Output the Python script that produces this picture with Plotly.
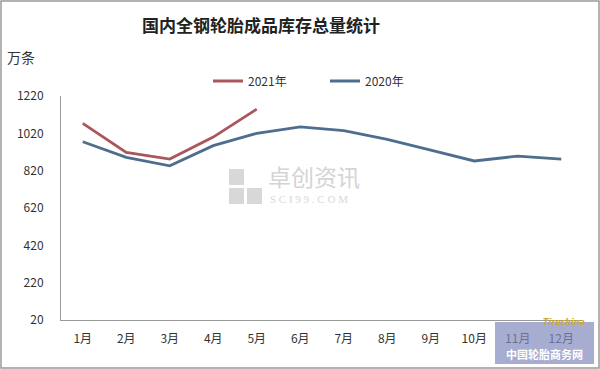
import plotly.graph_objects as go

months = ["1月", "2月", "3月", "4月", "5月", "6月", "7月", "8月", "9月", "10月", "11月", "12月"]
vals_2021 = [1073, 918, 882, 1000, 1150]
vals_2020 = [975, 891, 846, 954, 1020, 1055, 1034, 988, 930, 872, 898, 882]
y_ticks = [20, 220, 420, 620, 820, 1020, 1220]

W, H = 600, 369
L, R, T, B = 61, 17, 96, 49
pw, ph = W - L - R, H - T - B

def px(p):
    return (p - L) / pw

def py(p):
    return (H - B - p) / ph

FONT = "Noto Sans CJK SC"

fig = go.Figure()
fig.add_trace(go.Scatter(x=months[:len(vals_2021)], y=vals_2021, mode="lines", name="2021年",
                         line=dict(color="#a9575a", width=2.8)))
fig.add_trace(go.Scatter(x=months, y=vals_2020, mode="lines", name="2020年",
                         line=dict(color="#4f6e8f", width=2.8)))

fig.update_layout(
    width=W, height=H,
    margin=dict(l=L, r=R, t=T, b=B),
    paper_bgcolor="white", plot_bgcolor="white",
    font=dict(family=FONT, color="#333333", size=12),
    showlegend=True,
    legend=dict(orientation="h", x=px(208), y=py(81), xanchor="left", yanchor="middle",
                font=dict(size=12, color="#333333"), itemwidth=30, entrywidth=72,
                bgcolor="rgba(0,0,0,0)"),
    xaxis=dict(type="category", range=[-0.5, 11.5], showline=True, linecolor="#999999", linewidth=1,
               showgrid=False, ticks="", ticklabelstandoff=8, tickfont=dict(size=12, color="#333333")),
    yaxis=dict(range=[20, 1220], tickvals=y_ticks, showline=True, linecolor="#999999", linewidth=1,
               showgrid=False, zeroline=False, ticks="", ticklabelstandoff=14,
               tickfont=dict(size=12, color="#333333")),
)

annotations = [
    dict(text="<b>国内全钢轮胎成品库存总量统计</b>", x=px(261), y=py(24), xref="paper", yref="paper",
         showarrow=False, font=dict(size=17, color="#222222", family=FONT), xanchor="center", yanchor="middle"),
    dict(text="万条", x=px(5), y=py(57), xref="paper", yref="paper", showarrow=False,
         font=dict(size=14, color="#333333", family=FONT), xanchor="left", yanchor="middle"),
    dict(text="卓创资讯", x=px(266), y=py(176), xref="paper", yref="paper", showarrow=False,
         font=dict(size=23, color="#d4d4d4", family=FONT), xanchor="left", yanchor="middle"),
    dict(text="S C I 9 9 . C O M", x=px(268), y=py(199), xref="paper", yref="paper", showarrow=False,
         font=dict(size=11, color="#d8d8d8", family="Liberation Serif"), xanchor="left", yanchor="middle"),
    dict(text="<b>中国轮胎商务网</b>", x=px(544), y=py(354), xref="paper", yref="paper", showarrow=False,
         font=dict(size=11, color="white", family=FONT), xanchor="center", yanchor="middle"),
    dict(text="<i><b>Tirechina</b></i>", x=px(564), y=py(322), xref="paper", yref="paper", showarrow=False,
         font=dict(size=8, color="#c8a93a", family="DejaVu Sans"), xanchor="center", yanchor="middle"),
]
fig.update_layout(annotations=annotations)

shapes = [
    # watermark icon squares
    dict(type="rect", xref="paper", yref="paper", x0=px(229), x1=px(244), y0=py(185), y1=py(169),
         fillcolor="#d8d8d8", line=dict(width=0), layer="below"),
    dict(type="rect", xref="paper", yref="paper", x0=px(229), x1=px(244), y0=py(204), y1=py(188),
         fillcolor="#d8d8d8", line=dict(width=0), layer="below"),
    dict(type="rect", xref="paper", yref="paper", x0=px(247), x1=px(262), y0=py(204), y1=py(188),
         fillcolor="#d8d8d8", line=dict(width=0), layer="below"),
    # logo box
    dict(type="rect", xref="paper", yref="paper", x0=px(495), x1=px(594), y0=py(364), y1=py(322),
         fillcolor="rgba(130,138,190,0.7)", line=dict(width=0), layer="above"),
    # outer frame
    dict(type="rect", xref="paper", yref="paper", x0=px(1), x1=px(599), y0=py(368), y1=py(1),
         fillcolor="rgba(0,0,0,0)", line=dict(color="#9a9a9a", width=1.5)),
]
fig.update_layout(shapes=shapes)

fig.write_html("out.html", config={"displayModeBar": False},
               post_script="document.body.style.margin='0';document.body.style.overflow='hidden';")
